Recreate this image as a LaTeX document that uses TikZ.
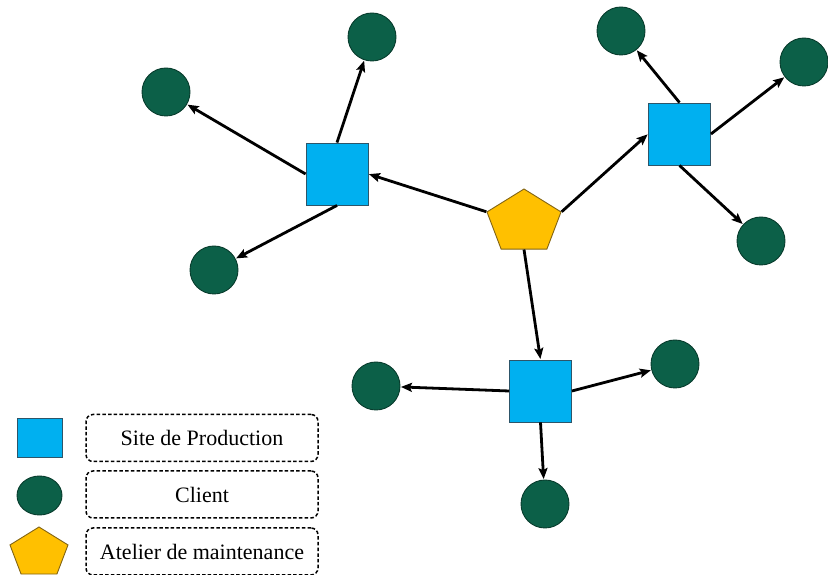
\documentclass[tikz,border=0pt]{standalone}
\usepackage{fontspec}
\setmainfont{Liberation Serif}
\usetikzlibrary{shapes.geometric,arrows.meta}
\definecolor{sqfill}{RGB}{0,176,240}
\definecolor{sqline}{RGB}{45,85,105}
\definecolor{clfill}{RGB}{12,96,72}
\definecolor{clline}{RGB}{8,60,45}
\definecolor{pgfill}{RGB}{255,192,0}
\definecolor{pgline}{RGB}{130,100,20}
\tikzset{
  site/.style={rectangle,draw=sqline,fill=sqfill,line width=0.9pt,minimum width=62pt,minimum height=62pt,inner sep=0pt},
  client/.style={circle,draw=clline,fill=clfill,line width=0.9pt,minimum size=48pt,inner sep=0pt},
  atelier/.style={regular polygon,regular polygon sides=5,draw=pgline,fill=pgfill,line width=0.9pt,inner sep=0pt,xscale=1.173,transform shape},
  link/.style={line width=2.8pt,-{Stealth[length=11pt,width=9pt,inset=2pt]},shorten >=0.5pt},
  legbox/.style={draw,dashed,dash pattern=on 3.5pt off 2.2pt,line width=1.5pt,rounded corners=7pt,minimum width=232pt,minimum height=47pt,inner sep=0pt,font=\fontsize{22}{26}\selectfont}
}
\begin{document}
\begin{tikzpicture}[x=1pt,y=1pt]
\useasboundingbox (0,0) rectangle (828,575);
% main pentagon
\begin{scope}[shift={(524,352.8)}]
  \node[atelier,minimum size=66.4pt] (P) at (0,0) {};
\end{scope}
% sites
\node[site] (S1) at (337,401) {};
\node[site] (S2) at (679.5,441) {};
\node[site] (S3) at (540.5,184) {};
% clients
\node[client] (c1) at (372,538) {};
\node[client] (c2) at (166,483) {};
\node[client] (c3) at (214,305) {};
\node[client] (c4) at (621,544) {};
\node[client] (c5) at (804,513) {};
\node[client] (c6) at (761,334) {};
\node[client] (c7) at (376,189) {};
\node[client] (c8) at (675,211) {};
\node[client] (c9) at (545,71) {};
% links
\draw[link] (P.corner 2) -- (S1.east);
\draw[link] (P.corner 5) -- (S2.west);
\draw[link] (P.south) -- (S3.north);
\draw[link] (S1.north) -- (c1);
\draw[link] (S1.west) -- (c2);
\draw[link] (S1.south) -- (c3);
\draw[link] (S2.north) -- (c4);
\draw[link] (S2.east) -- (c5);
\draw[link] (S2.south) -- (c6);
\draw[link] (S3.west) -- (c7);
\draw[link] (S3.east) -- (c8);
\draw[link] (S3.south) -- (c9);
% legend
\node[site,minimum width=45pt,minimum height=39pt] (LS) at (39.5,137.5) {};
\node[client,ellipse,minimum width=45pt,minimum height=39pt] (LC) at (39.5,79.5) {};
\begin{scope}[shift={(39,22)}]
  \node[atelier,minimum size=52pt] (LP) at (0,0) {};
\end{scope}
\node[legbox] (T1) at (202,137) {Site de Production};
\node[legbox] (T2) at (202,80.5) {Client};
\node[legbox] (T3) at (202,23.5) {Atelier de maintenance};
\end{tikzpicture}
\end{document}
